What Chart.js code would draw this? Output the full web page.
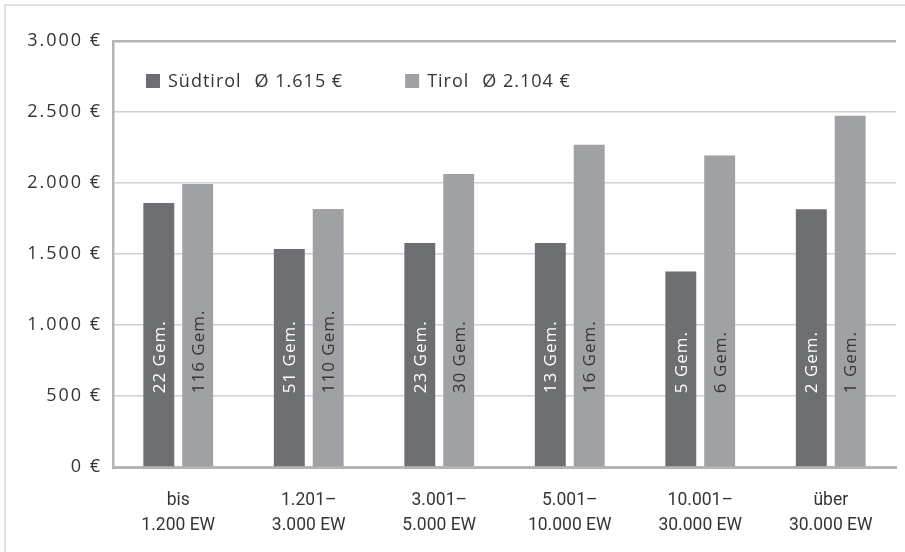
<!DOCTYPE html>
<html lang="de">
<head>
<meta charset="utf-8">
<title>Durchschnittswerte nach Gemeindegröße</title>
<script src="https://cdn.jsdelivr.net/npm/chart.js@4.4.1/dist/chart.umd.min.js"></script>
<style>
  html, body { margin: 0; padding: 0; background: #ffffff; }
  #wrap { position: relative; width: 905px; height: 552px; overflow: hidden; }
  #frame {
    position: absolute; left: 4px; top: 4px; width: 1000px; height: 1000px;
    border-left: 2px solid #e1e1e1; border-top: 2px solid #e1e1e1;
    pointer-events: none;
  }
  canvas { position: absolute; left: 0; top: 0; }
</style>
</head>
<body>
<div id="wrap">
  <div id="frame"></div>
  <canvas id="chart" width="905" height="552"></canvas>
</div>
<script>
// Einwohnerklassen (x-Achse)
const categories = [
  ['bis', '1.200 EW'],
  ['1.201–', '3.000 EW'],
  ['3.001–', '5.000 EW'],
  ['5.001–', '10.000 EW'],
  ['10.001–', '30.000 EW'],
  ['über', '30.000 EW']
];

// Werte in Euro je Einwohnerklasse
const suedtirolValues = [1860, 1535, 1577, 1578, 1376, 1816];
const tirolValues     = [1993, 1817, 2063, 2270, 2193, 2474];

// Anzahl der Gemeinden je Klasse
const suedtirolCounts = [22, 51, 23, 13, 5, 2];
const tirolCounts     = [116, 110, 30, 16, 6, 1];

// Serien und Durchschnitte für die Legende
const seriesNames    = ['Südtirol', 'Tirol'];
const seriesAverages = ['Ø 1.615 €', 'Ø 2.104 €'];

// y-Achse
const yMax  = 3000;
const yStep = 500;

const FONT = '"Open Sans", sans-serif';
const CAT_FONT = 'Roboto, "Open Sans", sans-serif';
const TEXT = '#353535';
const DARK = '#6d6e71';
const LIGHT = '#a0a1a5';

const fmt = new Intl.NumberFormat('de-DE');

// Laufweite: weit für die y-Beschriftung, normal für alles danach
const spacing = {
  id: 'spacing',
  beforeDraw(chart) { chart.ctx.letterSpacing = '2px'; },
  beforeDatasetsDraw(chart) { chart.ctx.letterSpacing = '0px'; }
};

// Legende innerhalb des Diagrammbereichs
const innerLegend = {
  id: 'innerLegend',
  afterDraw(chart) {
    const { ctx, chartArea } = chart;
    ctx.save();
    ctx.letterSpacing = '1px';
    ctx.font = '18px ' + FONT;
    ctx.textBaseline = 'middle';
    ctx.textAlign = 'left';
    let x = chartArea.left + 33;
    const y = chartArea.top + 40;
    chart.data.datasets.forEach((ds, i) => {
      ctx.fillStyle = ds.backgroundColor;
      ctx.fillRect(x, y - 7, 14, 14);
      x += 22;
      ctx.fillStyle = TEXT;
      ctx.fillText(ds.label, x, y + 1);
      x += ctx.measureText(ds.label).width + 13;
      ctx.fillText(seriesAverages[i], x, y + 1);
      x += ctx.measureText(seriesAverages[i]).width + 62;
    });
    ctx.restore();
  }
};

// Gemeindeanzahl senkrecht in den Balken
const barCounts = {
  id: 'barCounts',
  afterDatasetsDraw(chart) {
    const { ctx } = chart;
    const counts = [suedtirolCounts, tirolCounts];
    const colors = ['#ffffff', TEXT];
    ctx.save();
    ctx.letterSpacing = '1px';
    ctx.font = '17px ' + FONT;
    ctx.textAlign = 'left';
    ctx.textBaseline = 'middle';
    chart.data.datasets.forEach((ds, i) => {
      const meta = chart.getDatasetMeta(i);
      meta.data.forEach((bar, j) => {
        ctx.save();
        ctx.translate(bar.x, bar.base - 73);
        ctx.rotate(-Math.PI / 2);
        ctx.fillStyle = colors[i];
        ctx.fillText(counts[i][j] + ' Gem.', 0, 1);
        ctx.restore();
      });
    });
    ctx.restore();
  }
};

new Chart(document.getElementById('chart'), {
  type: 'bar',
  data: {
    labels: categories,
    datasets: [
      { label: seriesNames[0], data: suedtirolValues, backgroundColor: DARK },
      { label: seriesNames[1], data: tirolValues, backgroundColor: LIGHT }
    ]
  },
  options: {
    responsive: false,
    animation: false,
    devicePixelRatio: 1,
    layout: { padding: { top: 41, right: 9, bottom: 0, left: 0 } },
    datasets: {
      bar: { categoryPercentage: 0.596, barPercentage: 0.795, borderWidth: 0 }
    },
    plugins: {
      legend: { display: false },
      tooltip: { enabled: false }
    },
    scales: {
      x: {
        grid: { display: false, drawTicks: false },
        border: { display: true, color: '#b4b4b7', width: 3 },
        ticks: {
          z: 1,
          color: TEXT,
          font: { family: CAT_FONT, size: 17.5, lineHeight: 1.45 },
          padding: 21,
          maxRotation: 0
        },
        afterFit(scale) { scale.height = 85; }
      },
      y: {
        min: 0,
        max: yMax,
        grid: {
          drawTicks: false,
          color: ctx => ctx.tick && ctx.tick.value === yMax ? '#b4b4b7' : '#d0d0d2',
          lineWidth: ctx => ctx.tick && ctx.tick.value === yMax ? 2.5 : 1.5
        },
        border: { display: true, color: '#b4b4b7', width: 2.5 },
        ticks: {
          stepSize: yStep,
          color: TEXT,
          font: { family: FONT, size: 18 },
          padding: 11,
          callback: v => fmt.format(v) + ' €'
        },
        afterFit(scale) { scale.width = 113; }
      }
    }
  },
  plugins: [spacing, innerLegend, barCounts]
});
</script>
</body>
</html>
